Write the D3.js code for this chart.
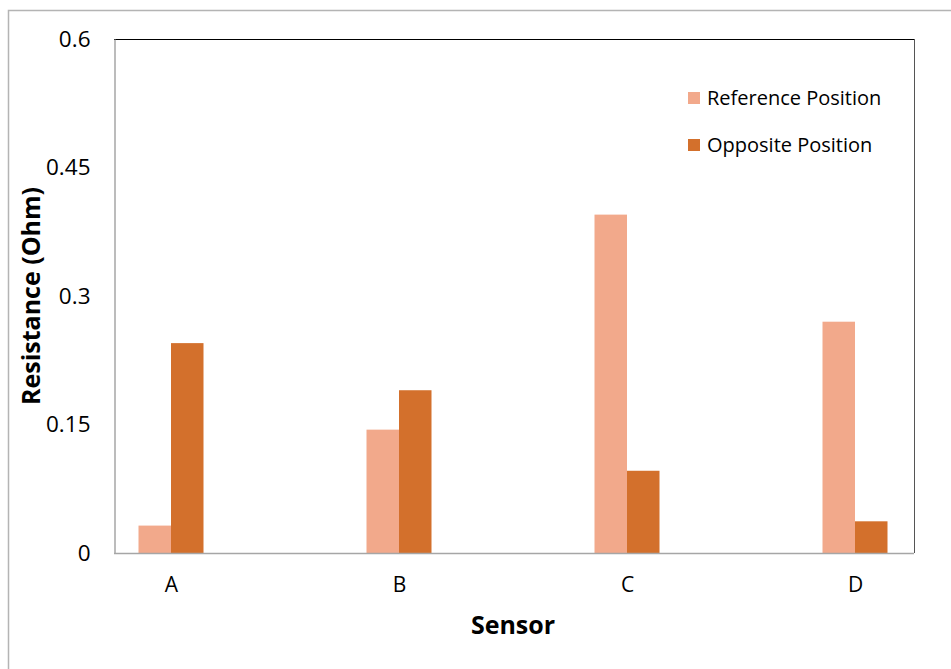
<!DOCTYPE html>
<html>
<head>
<meta charset="utf-8">
<script src="https://cdn.jsdelivr.net/npm/d3@7"></script>
<style>
  html, body { margin: 0; padding: 0; background: #fff; }
  svg text { font-family: "Open Sans", "Noto Sans", sans-serif; fill: #000; }
</style>
</head>
<body>
<svg id="chart" width="951" height="669"></svg>
<script>
// Sensor resistance at the two positions
const sensors = ["A", "B", "C", "D"];
const seriesNames = ["Reference Position", "Opposite Position"];
const referenceValues = [0.032, 0.144, 0.395, 0.270];
const oppositeValues = [0.245, 0.190, 0.096, 0.037];
const yTicks = [0, 0.15, 0.3, 0.45, 0.6];
const yTickLabels = ["0", "0.15", "0.3", "0.45", "0.6"];
const colors = ["#F2A98B", "#D3702C"];

const svg = d3.select("#chart");
const plot = { left: 114, top: 39, right: 914, bottom: 553 };

// chart frame
svg.append("rect")
  .attr("x", 8.5).attr("y", 10.5)
  .attr("width", 960).attr("height", 680)
  .attr("fill", "none").attr("stroke", "#b4b4b4").attr("stroke-width", 1.5);

const y = d3.scaleLinear().domain([0, 0.6]).range([plot.bottom, plot.top]);
const x = d3.scalePoint().domain(sensors).range([171, 855]);
const xs = d3.scaleBand().domain(seriesNames).range([-32.5, 32.5]);

const rows = sensors.map((s, i) => ({ sensor: s, values: [referenceValues[i], oppositeValues[i]] }));

// bars
const groups = svg.append("g").selectAll("g").data(rows).join("g")
  .attr("transform", d => `translate(${x(d.sensor)},0)`);
groups.selectAll("rect")
  .data(d => d.values.map((v, k) => ({ name: seriesNames[k], value: v, k })))
  .join("rect")
  .attr("x", d => xs(d.name))
  .attr("y", d => y(d.value))
  .attr("width", xs.bandwidth())
  .attr("height", d => y(0) - y(d.value))
  .attr("fill", d => colors[d.k]);

// plot border: top/right dark, axes gray
svg.append("line").attr("x1", plot.left).attr("x2", plot.right + 0.5)
  .attr("y1", plot.top + 0.5).attr("y2", plot.top + 0.5).attr("stroke", "#000");
svg.append("line").attr("x1", plot.right + 0.5).attr("x2", plot.right + 0.5)
  .attr("y1", plot.top).attr("y2", plot.bottom).attr("stroke", "#555");

// y axis
const yAxis = d3.axisLeft(y).tickValues(yTicks)
  .tickFormat((d, i) => yTickLabels[i]).tickSize(0).tickPadding(24);
const gy = svg.append("g").attr("transform", `translate(${plot.left + 0.5},0)`).call(yAxis);
gy.select(".domain").attr("stroke", "#a6a6a6").attr("stroke-width", 1.5);
gy.selectAll("text").attr("font-size", 22.5).attr("font-family", "Open Sans");

// x axis
const xAxis = d3.axisBottom(x).tickSize(0).tickPadding(24);
const gx = svg.append("g").attr("transform", `translate(0,${plot.bottom + 0.5})`).call(xAxis);
gx.select(".domain").attr("d", `M${plot.left},0H${plot.right}`)
  .attr("stroke", "#a6a6a6").attr("stroke-width", 1.5);
gx.selectAll("text").attr("font-size", 21).attr("font-family", "Open Sans");

// axis titles
svg.append("text").attr("x", 513).attr("y", 634)
  .attr("text-anchor", "middle").attr("font-size", 25).attr("font-weight", "bold")
  .text("Sensor");
svg.append("text")
  .attr("transform", "translate(40,296) rotate(-90)")
  .attr("text-anchor", "middle").attr("font-size", 25).attr("font-weight", "bold")
  .text("Resistance (Ohm)");

// legend
const legend = svg.append("g").selectAll("g").data(seriesNames).join("g")
  .attr("transform", (d, i) => `translate(688,${92 + i * 47})`);
legend.append("rect").attr("width", 12).attr("height", 12)
  .attr("fill", (d, i) => colors[i]);
legend.append("text").attr("x", 19).attr("y", 6).attr("dy", "0.35em")
  .attr("font-size", 20).text(d => d);
</script>
</body>
</html>
